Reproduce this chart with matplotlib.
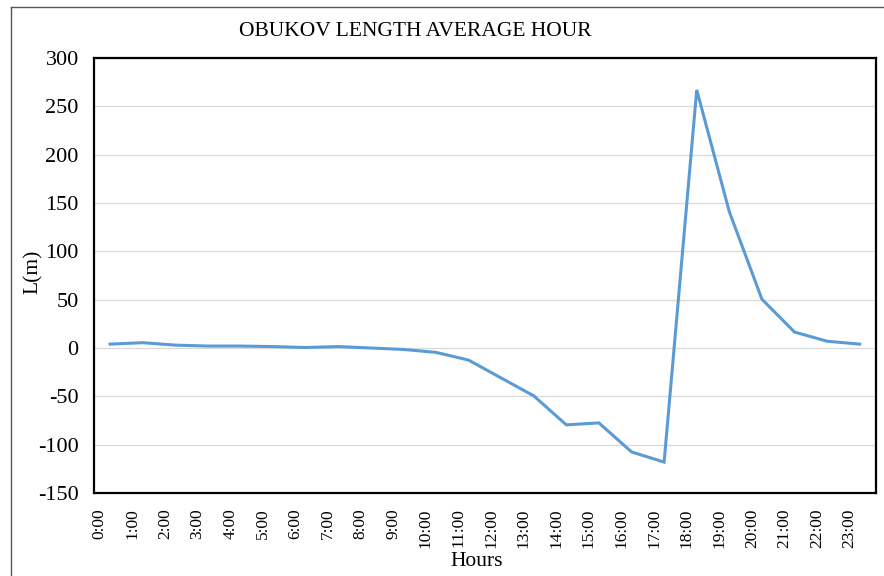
import matplotlib.pyplot as plt
import numpy as np

# hourly average Obukhov length (m)
hours = ["%d:00" % h for h in range(24)]
L_values = [4, 5.5, 3, 2, 2, 1.5, 0.5, 1.5, 0, -1.5, -4.5, -12.5,
            -31, -49.5, -79.5, -77.5, -107.5, -118, 267, 141, 50.5,
            16.5, 7, 4]

plt.rcParams['font.family'] = ['Liberation Serif', 'DejaVu Serif']
plt.rcParams['axes.unicode_minus'] = False

fig = plt.figure(figsize=(8.84, 5.76), dpi=100)
ax = fig.add_axes([94/884, 1-493/576, (876-94)/884, (493-58)/576])

x = np.arange(len(L_values))
ax.plot(x, L_values, color='#5b9bd5', linewidth=2.2, solid_joinstyle='miter')

ax.set_ylim(-150, 300)
ax.set_yticks(np.arange(-150, 301, 50))
ax.set_xlim(-0.49, 23.5)
ax.set_xticks(x - 0.31)
ax.set_xticklabels(hours, rotation=90)

ax.grid(axis='y', color='#d9d9d9', linewidth=0.9)
ax.set_axisbelow(True)
for s in ax.spines.values():
    s.set_linewidth(1.6)
    s.set_color('black')

ax.tick_params(axis='y', length=0, labelsize=16, pad=11)
ax.tick_params(axis='x', length=0, labelsize=12.5, pad=11)

fig.text(415/884, 1-31/576, "OBUKOV LENGTH AVERAGE HOUR", ha='center', va='center', fontsize=15.5)
fig.text(477/884, 1-561/576, "Hours", ha='center', va='center', fontsize=15.5)
fig.text(33/884, 1-272/576, "L(m)", ha='center', va='center', fontsize=15.5, rotation=90)

# outer chart-area border (top and left visible)
fig.add_artist(plt.Line2D([11/884, 11/884], [0, 1-7/576], transform=fig.transFigure, color='#555555', linewidth=1))
fig.add_artist(plt.Line2D([11/884, 1], [1-7/576, 1-7/576], transform=fig.transFigure, color='#555555', linewidth=1))

fig.savefig("out.png", dpi=100)
